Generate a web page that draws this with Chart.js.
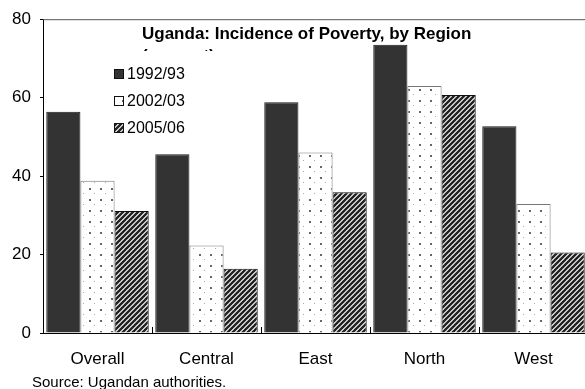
<!DOCTYPE html>
<html>
<head>
<meta charset="utf-8">
<script src="https://cdn.jsdelivr.net/npm/chart.js@4"></script>
<style>
  html, body { margin: 0; padding: 0; background: #fff; overflow: hidden; }
  canvas { display: block; }
</style>
</head>
<body>
<canvas id="povertyChart" width="592" height="389"></canvas>
<script>
const regions = ['Overall', 'Central', 'East', 'North', 'West'];
const seriesLabels = ['1992/93', '2002/03', '2005/06'];
const poverty9293 = [56.4, 45.6, 58.8, 73.5, 52.7];
const poverty0203 = [38.8, 22.3, 46.0, 63.0, 32.9];
const poverty0506 = [31.1, 16.4, 35.9, 60.7, 20.5];
const yTicks = [0, 20, 40, 60, 80];

const titleText = 'Uganda: Incidence of Poverty, by Region';
const unitText = '(percent)';
const sourceText = 'Source: Ugandan authorities.';

// white fill with a staggered grid of small grey dots
function dotPattern() {
    const c = document.createElement('canvas');
    c.width = 11; c.height = 11;
    const g = c.getContext('2d');
    g.fillStyle = '#fff';
    g.fillRect(0, 0, 11, 11);
    g.fillStyle = '#666';
    g.fillRect(1, 1, 2, 2);
    g.fillStyle = '#aaa';
    g.fillRect(6, 6, 1, 1);
    return g.createPattern(c, 'repeat');
}

// dark diagonal hatching
function hatchPattern() {
    const n = 5;
    const c = document.createElement('canvas');
    c.width = n; c.height = n;
    const g = c.getContext('2d');
    g.fillStyle = '#fff';
    g.fillRect(0, 0, n, n);
    g.strokeStyle = '#222';
    g.lineWidth = 2.4;
    g.beginPath();
    g.moveTo(-1, n + 1); g.lineTo(n + 1, -1);
    g.moveTo(-1, 1); g.lineTo(1, -1);
    g.moveTo(n - 1, n + 1); g.lineTo(n + 1, n - 1);
    g.stroke();
    return g.createPattern(c, 'repeat');
}

const fills = ['#333333', dotPattern(), hatchPattern()];
const borders = ['#1a1a1a', '#777777', '#111111'];

const decorations = {
    id: 'decorations',
    afterDraw(chart) {
        const ctx = chart.ctx;
        const area = chart.chartArea;
        const x = chart.scales.x;
        ctx.save();

        // frame line along the top of the plot
        ctx.strokeStyle = '#555';
        ctx.lineWidth = 1;
        ctx.beginPath();
        ctx.moveTo(area.left, area.top + 0.5);
        ctx.lineTo(area.right, area.top + 0.5);
        ctx.stroke();

        // short inward ticks between region groups
        ctx.strokeStyle = '#000';
        ctx.beginPath();
        for (let i = 0; i < regions.length - 1; i++) {
            const bx = Math.round((x.getPixelForTick(i) + x.getPixelForTick(i + 1)) / 2) + 0.5;
            ctx.moveTo(bx, area.bottom);
            ctx.lineTo(bx, area.bottom - 6);
        }
        ctx.stroke();

        // title; the unit line underneath is mostly hidden
        ctx.fillStyle = '#000';
        ctx.textAlign = 'left';
        ctx.textBaseline = 'alphabetic';
        ctx.font = 'bold 17px Arial, "Liberation Sans", sans-serif';
        ctx.fillText(titleText, 142, 39);
        ctx.save();
        ctx.beginPath();
        ctx.rect(0, 0, chart.width, 51);
        ctx.clip();
        ctx.fillText(unitText, 142, 61);
        ctx.restore();

        // legend
        ctx.font = '16px Arial, "Liberation Sans", sans-serif';
        ctx.textBaseline = 'middle';
        chart.data.datasets.forEach((ds, i) => {
            const cy = 74 + i * 27;
            ctx.fillStyle = ds.backgroundColor;
            ctx.fillRect(114, cy - 5, 10, 10);
            ctx.strokeStyle = '#111';
            ctx.lineWidth = 1;
            ctx.strokeRect(114.5, cy - 4.5, 9, 9);
            ctx.fillStyle = '#000';
            ctx.fillText(ds.label, 127, cy + 1);
        });

        // source note
        ctx.font = '15px Arial, "Liberation Sans", sans-serif';
        ctx.textBaseline = 'alphabetic';
        ctx.fillText(sourceText, 32, 387);
        ctx.restore();
    }
};

new Chart(document.getElementById('povertyChart'), {
    type: 'bar',
    data: {
        labels: regions,
        datasets: [poverty9293, poverty0203, poverty0506].map((vals, i) => ({
            label: seriesLabels[i],
            data: vals,
            backgroundColor: fills[i],
            borderColor: borders[i],
            borderWidth: 1,
            borderSkipped: 'bottom',
            categoryPercentage: 0.94,
            barPercentage: 1.0
        }))
    },
    options: {
        responsive: false,
        animation: false,
        layout: { padding: { top: 19, right: 4, bottom: 20, left: 0 } },
        plugins: {
            legend: { display: false },
            title: { display: false },
            tooltip: { enabled: false }
        },
        scales: {
            x: {
                afterFit(scale) { scale.height = 36; },
                grid: { display: false, drawTicks: false },
                border: { display: true, color: '#000', width: 1 },
                ticks: {
                    color: '#000',
                    padding: 16,
                    font: { family: 'Arial, "Liberation Sans", sans-serif', size: 17 }
                }
            },
            y: {
                min: 0,
                max: 80,
                afterFit(scale) { scale.width = 43; },
                afterBuildTicks(scale) { scale.ticks = yTicks.map(v => ({ value: v })); },
                grid: { drawOnChartArea: false, drawTicks: true, tickLength: 3, color: '#000' },
                border: { display: true, color: '#000', width: 1 },
                ticks: {
                    color: '#000',
                    padding: 9,
                    font: { family: 'Arial, "Liberation Sans", sans-serif', size: 17 }
                }
            }
        }
    },
    plugins: [decorations]
});
</script>
</body>
</html>
